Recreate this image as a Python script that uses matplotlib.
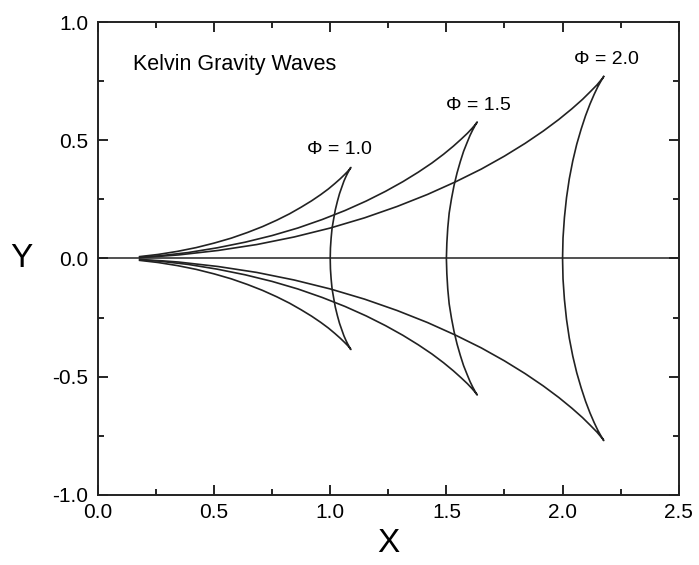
import matplotlib
matplotlib.use("Agg")
import matplotlib.pyplot as plt
from matplotlib.ticker import MultipleLocator, FormatStrFormatter

plt.rcParams['font.family'] = ['Liberation Sans', 'DejaVu Sans']
plt.rcParams['axes.unicode_minus'] = False

# crest lines, upper half: from the common starting point out to the cusp,
# then back down the transverse crest to the sailing line
phases = [1.0, 1.5, 2.0]
phase_labels = ["Φ = 1.0", "Φ = 1.5", "Φ = 2.0"]

x_phi10 = [0.180, 0.259, 0.342, 0.423, 0.500, 0.574, 0.644, 0.709, 0.770, 0.825,
           0.875, 0.920, 0.959, 0.992, 1.020, 1.043, 1.061, 1.074, 1.083, 1.087,
           1.089, 1.087, 1.083, 1.076, 1.068, 1.059, 1.050, 1.040, 1.031, 1.022,
           1.015, 1.008, 1.004, 1.001, 1.000]
y_phi10 = [0.008, 0.017, 0.030, 0.046, 0.065, 0.086, 0.110, 0.135, 0.162, 0.189,
           0.217, 0.244, 0.270, 0.294, 0.317, 0.337, 0.354, 0.367, 0.377, 0.383,
           0.385, 0.382, 0.375, 0.363, 0.347, 0.327, 0.302, 0.274, 0.242, 0.206,
           0.168, 0.128, 0.087, 0.044, 0.0]

x_phi15 = [0.180, 0.261, 0.388, 0.513, 0.634, 0.750, 0.861, 0.966, 1.064, 1.155,
           1.238, 1.313, 1.379, 1.438, 1.488, 1.530, 1.564, 1.591, 1.611, 1.624,
           1.631, 1.633, 1.630, 1.624, 1.614, 1.602, 1.589, 1.574, 1.560, 1.546,
           1.533, 1.522, 1.512, 1.506, 1.502, 1.500]
y_phi15 = [0.006, 0.011, 0.025, 0.045, 0.069, 0.097, 0.129, 0.165, 0.203, 0.243,
           0.284, 0.325, 0.365, 0.404, 0.441, 0.475, 0.505, 0.530, 0.551, 0.566,
           0.575, 0.577, 0.573, 0.563, 0.545, 0.521, 0.490, 0.453, 0.410, 0.362,
           0.309, 0.253, 0.192, 0.130, 0.065, 0.0]

x_phi20 = [0.180, 0.278, 0.347, 0.518, 0.684, 0.845, 1.001, 1.148, 1.288, 1.419,
           1.539, 1.650, 1.750, 1.839, 1.917, 1.984, 2.040, 2.086, 2.121, 2.148,
           2.165, 2.175, 2.177, 2.174, 2.165, 2.152, 2.136, 2.118, 2.099, 2.080,
           2.061, 2.044, 2.029, 2.017, 2.008, 2.002, 2.000]
y_phi20 = [0.004, 0.010, 0.015, 0.034, 0.059, 0.091, 0.129, 0.172, 0.220, 0.271,
           0.324, 0.378, 0.433, 0.487, 0.539, 0.588, 0.633, 0.673, 0.707, 0.734,
           0.754, 0.766, 0.770, 0.764, 0.750, 0.727, 0.694, 0.653, 0.604, 0.547,
           0.483, 0.413, 0.337, 0.257, 0.173, 0.087, 0.0]

crest_x = [x_phi10, x_phi15, x_phi20]
crest_y = [y_phi10, y_phi15, y_phi20]

# where the phase labels sit
label_x = [1.04, 1.64, 2.19]
label_y = [0.46, 0.645, 0.84]

fig = plt.figure(figsize=(6.99, 5.65), dpi=100)
ax = fig.add_axes([0.140, 0.124, 0.831, 0.837])

ax.axhline(0.0, color='#222222', linewidth=1.1)

for xs, ys in zip(crest_x, crest_y):
    # symmetric about the sailing line, so mirror the upper half
    full_x = xs + xs[::-1][1:]
    full_y = ys + [-v for v in ys[::-1][1:]]
    ax.plot(full_x, full_y, color='#222222', linewidth=1.2)

for lx, ly, txt in zip(label_x, label_y, phase_labels):
    ax.text(lx, ly, txt, ha='center', va='center', fontsize=14)

ax.text(0.15, 0.82, "Kelvin Gravity Waves", ha='left', va='center', fontsize=15.5)

ax.set_xlim(0.0, 2.5)
ax.set_ylim(-1.0, 1.0)
ax.xaxis.set_major_locator(MultipleLocator(0.5))
ax.xaxis.set_minor_locator(MultipleLocator(0.25))
ax.yaxis.set_major_locator(MultipleLocator(0.5))
ax.yaxis.set_minor_locator(MultipleLocator(0.25))
ax.xaxis.set_major_formatter(FormatStrFormatter('%.1f'))
ax.yaxis.set_major_formatter(FormatStrFormatter('%.1f'))
ax.tick_params(which='both', direction='in', top=True, right=True, width=1.2, labelsize=15)
ax.tick_params(which='major', length=7)
ax.tick_params(which='minor', length=4)
ax.tick_params(axis='x', which='major', pad=6)
ax.tick_params(axis='y', which='major', pad=7)
for sp in ax.spines.values():
    sp.set_linewidth(1.4)
    sp.set_color('#222222')

ax.set_xlabel("X", fontsize=24, labelpad=4)
ax.set_ylabel("Y", fontsize=24, rotation=0, labelpad=22, va='center')

fig.savefig("out.png", dpi=100)
